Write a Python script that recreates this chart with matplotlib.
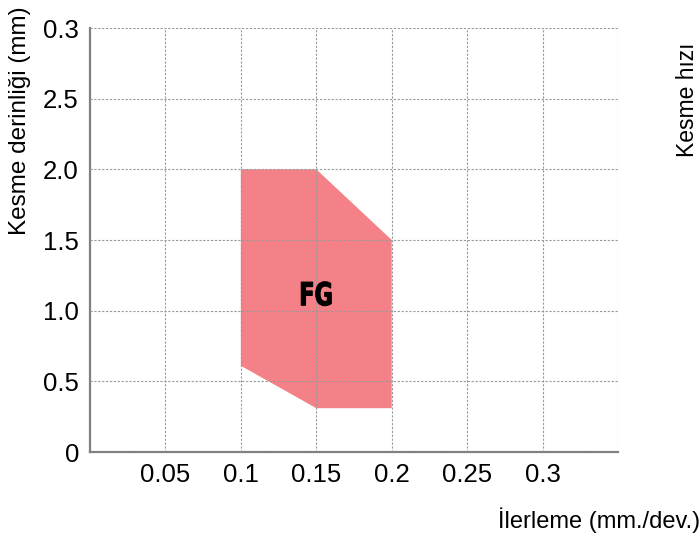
import matplotlib.pyplot as plt
from matplotlib.patches import Polygon, PathPatch
from matplotlib.textpath import TextPath
from matplotlib.font_manager import FontProperties
from matplotlib.transforms import Affine2D, ScaledTranslation

plt.rcParams['font.family'] = ['Liberation Sans', 'DejaVu Sans']

# FG application area (feed, depth of cut)
feed = [0.10, 0.15, 0.20, 0.20, 0.15, 0.10]
depth = [2.0, 2.0, 1.5, 0.31, 0.31, 0.61]
label = 'FG'
label_pos = (0.15, 1.12)

xticks = [0.05, 0.1, 0.15, 0.2, 0.25, 0.3]
xticklabels = ['0.05', '0.1', '0.15', '0.2', '0.25', '0.3']
yticks = [0, 0.5, 1.0, 1.5, 2.0, 2.5, 3.0]
yticklabels = ['0', '0.5', '1.0', '1.5', '2.0', '2.5', '0.3']

fig = plt.figure(figsize=(7, 5.36), dpi=100)
ax = fig.add_axes([90/700, 1 - 452/536, 528/700, 424/536])

ax.add_patch(Polygon(list(zip(feed, depth)), closed=True,
                     facecolor='#f48187', edgecolor='none', zorder=1))

# condensed bold label, drawn as a squeezed text path (about 31 x 25 px)
tp = TextPath((0, 0), label, size=1,
              prop=FontProperties(family='DejaVu Sans', weight='bold'))
ext = tp.get_extents()
cx, cy = (ext.x0 + ext.x1) / 2, (ext.y0 + ext.y1) / 2
tr = (Affine2D().translate(-cx, -cy).scale(30 / ext.width, 24 / ext.height)
      + ScaledTranslation(label_pos[0], label_pos[1], ax.transData))
ax.add_patch(PathPatch(tp, transform=tr, facecolor='black', edgecolor='black',
                       linewidth=0.8, zorder=3))

ax.set_xlim(0, 0.35)
ax.set_ylim(0, 3.0)
ax.set_xticks(xticks + [0.35])
ax.set_xticklabels(xticklabels + [''])
ax.set_yticks(yticks)
ax.set_yticklabels(yticklabels)
ax.tick_params(length=0, labelsize=18.5, pad=8)
ax.grid(True, color='#999999', linestyle=(0, (2, 1.5)), linewidth=0.8, zorder=2)
ax.set_axisbelow(False)

for s in ['top', 'right']:
    ax.spines[s].set_visible(False)
for s in ['left', 'bottom']:
    ax.spines[s].set_color('#808080')
    ax.spines[s].set_linewidth(1.6)

fig.text(20/700, 1 - 121/536, 'Kesme derinliği (mm)', rotation=90,
         ha='center', va='center', fontsize=17.5)
fig.text(1.0, 1 - 520/536, 'İlerleme (mm./dev.)', ha='right', va='center',
         fontsize=17)
fig.text(688/700, 1 - 157/536, 'Kesme hızı', rotation=90, ha='center',
         va='bottom', fontsize=16.5)

fig.savefig('out.png', dpi=100)
